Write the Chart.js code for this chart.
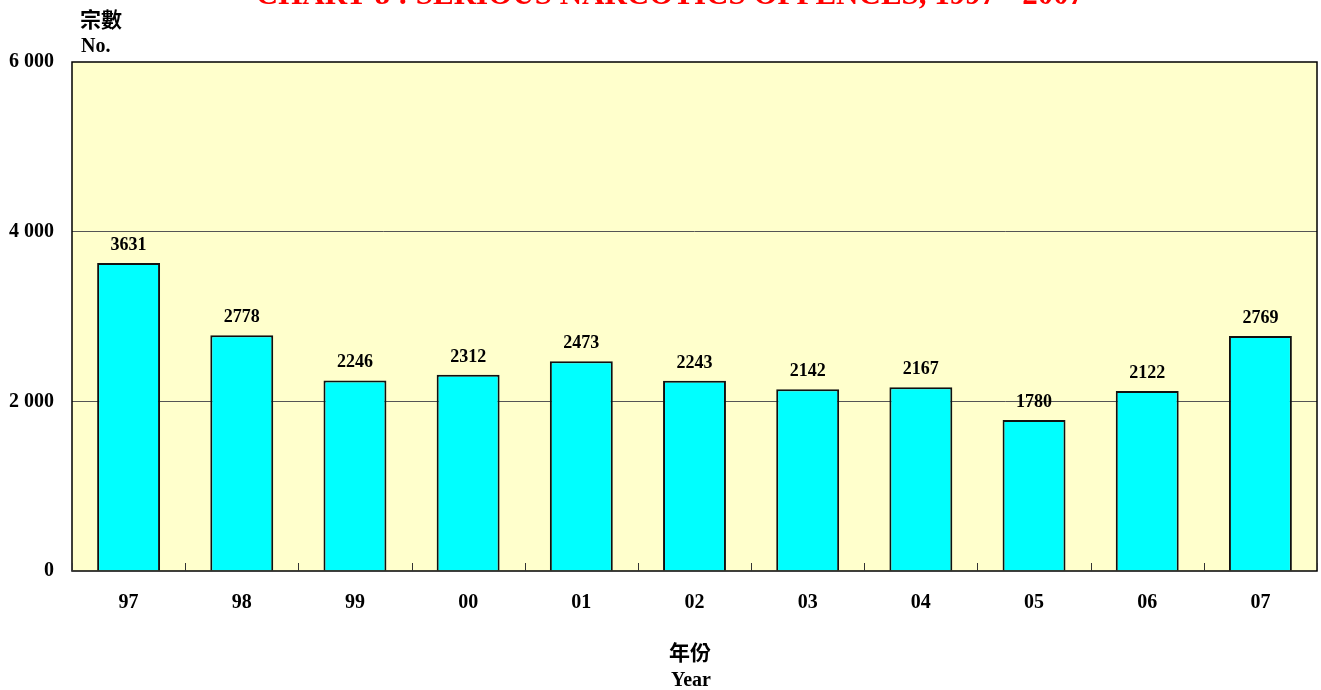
<!DOCTYPE html>
<html>
<head>
<meta charset="utf-8">
<script src="https://cdn.jsdelivr.net/npm/chart.js@4.4.1/dist/chart.umd.min.js"></script>
<style>
  html, body { margin: 0; padding: 0; background: #fff; }
  #wrap { width: 1321px; height: 690px; position: relative; }
</style>
</head>
<body>
<div id="wrap"><canvas id="chart" width="1321" height="690"></canvas></div>
<script>
// values
const years = ['97', '98', '99', '00', '01', '02', '03', '04', '05', '06', '07'];
const cases = [3631, 2778, 2246, 2312, 2473, 2243, 2142, 2167, 1780, 2122, 2769];
const yTicks = [0, 2000, 4000, 6000];

const serif = '"Liberation Serif", "Times New Roman", serif';
const cjk = '"Noto Sans CJK TC", "Noto Sans CJK SC", sans-serif';

// plot background, frame, little x ticks, labels and the cut title
const decor = {
  id: 'decor',
  beforeDraw(chart) {
    const { ctx, chartArea: a } = chart;
    ctx.save();
    ctx.fillStyle = '#FFFFCC';
    ctx.fillRect(a.left, a.top, a.right - a.left, a.bottom - a.top);
    ctx.restore();
  },
  afterDatasetsDraw(chart) {
    const { ctx, chartArea: a, scales } = chart;
    ctx.save();
    // frame
    ctx.strokeStyle = '#000';
    ctx.lineWidth = 1.5;
    ctx.strokeRect(a.left, a.top, a.right - a.left, a.bottom - a.top);

    // category boundary ticks pointing up
    ctx.lineWidth = 1;
    ctx.strokeStyle = '#333';
    const x = scales.x;
    for (let i = 0; i <= years.length; i++) {
      const px = Math.round(x.getPixelForValue(i - 0.5)) + 0.5;
      ctx.beginPath();
      ctx.moveTo(px, a.bottom);
      ctx.lineTo(px, a.bottom - 8);
      ctx.stroke();
    }

    // value labels above bars
    ctx.fillStyle = '#000';
    ctx.font = 'bold 18px ' + serif;
    ctx.textAlign = 'center';
    ctx.textBaseline = 'alphabetic';
    chart.getDatasetMeta(0).data.forEach((bar, i) => {
      ctx.fillText(String(cases[i]), bar.x, bar.y - 13);
    });

    // axis titles
    ctx.textAlign = 'left';
    ctx.font = 'bold 21px ' + cjk;
    ctx.fillText('宗數', 80, 27);
    ctx.font = 'bold 20px ' + serif;
    ctx.fillText('No.', 81, 52);

    ctx.textAlign = 'center';
    ctx.font = 'bold 21px ' + cjk;
    ctx.fillText('年份', 690, 660);
    ctx.font = 'bold 20px ' + serif;
    ctx.fillText('Year', 691, 686);

    // chart title, mostly off the top edge
    ctx.fillStyle = '#FF0000';
    ctx.font = 'bold 31px ' + serif;
    ctx.fillText('CHART 8 : SERIOUS NARCOTICS OFFENCES, 1997 - 2007', 670, 4);
    ctx.restore();
  }
};

new Chart(document.getElementById('chart'), {
  type: 'bar',
  data: {
    labels: years,
    datasets: [{
      data: cases,
      backgroundColor: '#00FFFF',
      borderColor: '#111',
      borderWidth: 2,
      barPercentage: 0.556,
      categoryPercentage: 1
    }]
  },
  options: {
    responsive: false,
    animation: false,
    layout: { padding: { top: 62, right: 4, left: 0, bottom: 0 } },
    plugins: { legend: { display: false }, tooltip: { enabled: false } },
    scales: {
      x: {
        grid: { display: false },
        border: { display: false },
        ticks: {
          padding: 12,
          color: '#000',
          font: { family: serif, size: 20, weight: 'bold' }
        },
        afterFit(s) { s.height = 119; }
      },
      y: {
        min: 0,
        max: 6000,
        afterBuildTicks(s) { s.ticks = yTicks.map(v => ({ value: v })); },
        grid: {
          color: (c) => (c.tick && (c.tick.value === 0 || c.tick.value === 6000)) ? 'rgba(0,0,0,0)' : '#555',
          lineWidth: 1,
          drawTicks: false
        },
        border: { display: false },
        ticks: {
          padding: 18,
          color: '#000',
          font: { family: serif, size: 20, weight: 'bold' },
          callback: (v) => String(v).replace(/\B(?=(\d{3})+(?!\d))/g, ' ')
        },
        afterFit(s) { s.width = 72; }
      }
    }
  },
  plugins: [decor]
});
</script>
</body>
</html>
